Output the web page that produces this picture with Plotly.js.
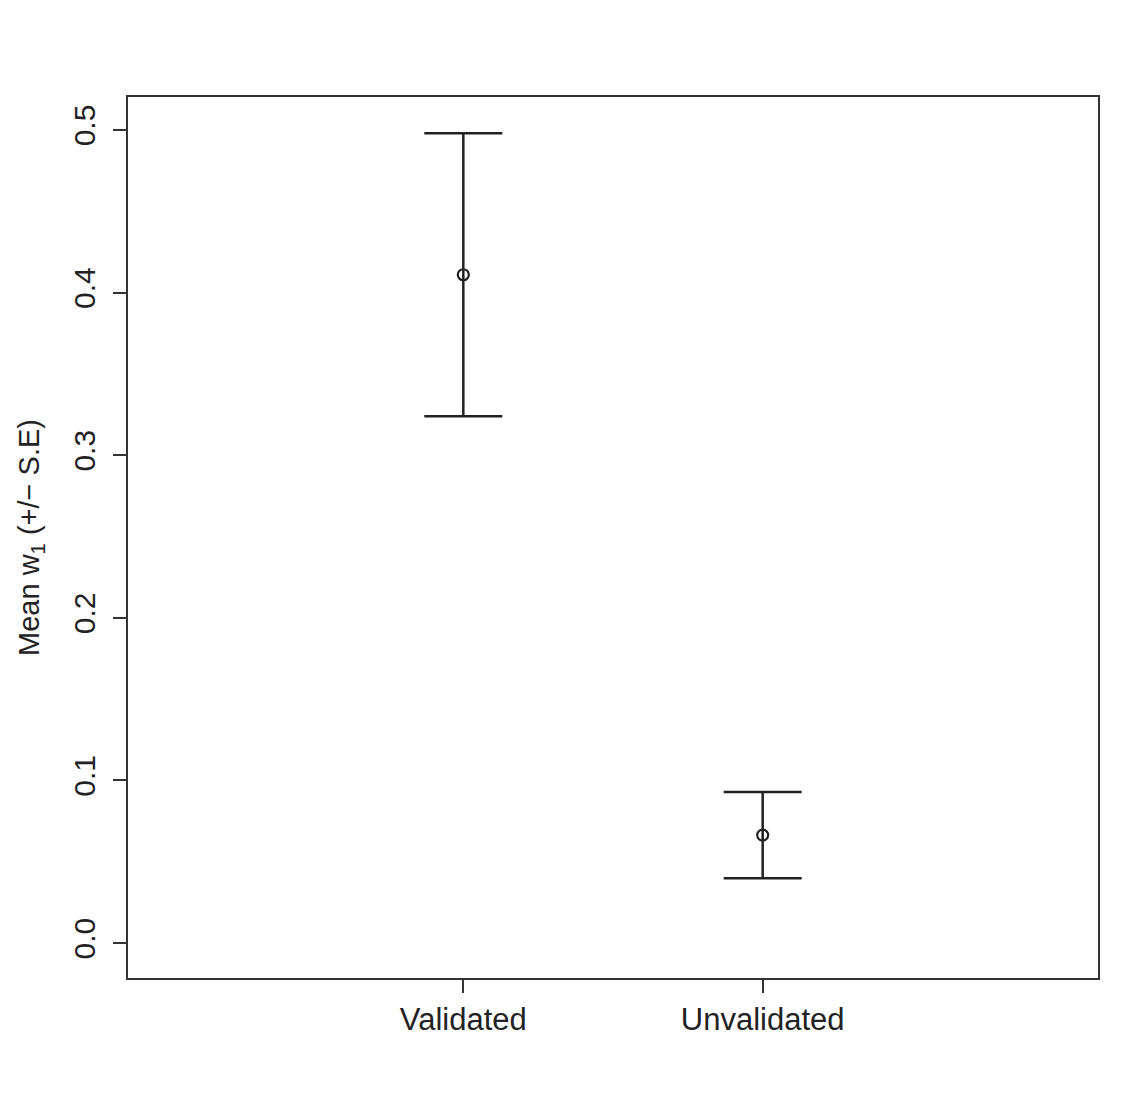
<!DOCTYPE html>
<html>
<head>
<meta charset="utf-8">
<script src="https://cdn.plot.ly/plotly-3.0.1.min.js"></script>
<style>html,body{margin:0;padding:0;background:#fff;}</style>
</head>
<body>
<div id="chart" style="width:1148px;height:1111px;"></div>
<script>
const categories = ["Validated", "Unvalidated"];
const positions = [1, 2];
const means = [0.411, 0.0664];
const standardErrors = [0.087, 0.0265];
const yTickValues = [0, 0.1, 0.2, 0.3, 0.4, 0.5];
const yTickLabels = ["0.0", "0.1", "0.2", "0.3", "0.4", "0.5"];

const trace = {
  type: "scatter",
  mode: "markers",
  x: positions,
  y: means,
  marker: {symbol: "circle-open", size: 11, color: "#222", line: {width: 2.2, color: "#222"}},
  error_y: {type: "data", array: standardErrors, visible: true, color: "#222", thickness: 2.5, width: 39},
  hoverinfo: "skip",
  showlegend: false
};

const layout = {
  width: 1148,
  height: 1111,
  margin: {l: 128, r: 50, t: 97, b: 133},
  paper_bgcolor: "#fff",
  plot_bgcolor: "#fff",
  font: {family: "Liberation Sans, Arial, sans-serif", color: "#222", size: 30},
  xaxis: {
    range: [-0.12, 3.12],
    tickvals: positions,
    ticktext: categories,
    ticks: "outside",
    ticklen: 13,
    tickwidth: 2,
    tickcolor: "#333",
    showgrid: false,
    zeroline: false,
    showline: true,
    mirror: true,
    linecolor: "#333",
    linewidth: 2,
    tickfont: {size: 31, color: "#222"}
  },
  yaxis: {
    range: [-0.0215, 0.5203],
    tickvals: yTickValues,
    ticktext: yTickLabels,
    tickangle: -90,
    ticks: "outside",
    ticklen: 13,
    tickwidth: 2,
    tickcolor: "#333",
    ticklabelstandoff: 6,
    showgrid: false,
    zeroline: false,
    showline: true,
    mirror: true,
    linecolor: "#333",
    linewidth: 2,
    tickfont: {size: 30, color: "#222"},
    title: {text: "Mean w<sub>1</sub> (+/\u2212 S.E)", font: {size: 29, color: "#222"}, standoff: 20}
  }
};

Plotly.newPlot("chart", [trace], layout, {displayModeBar: false, staticPlot: true});
</script>
</body>
</html>
